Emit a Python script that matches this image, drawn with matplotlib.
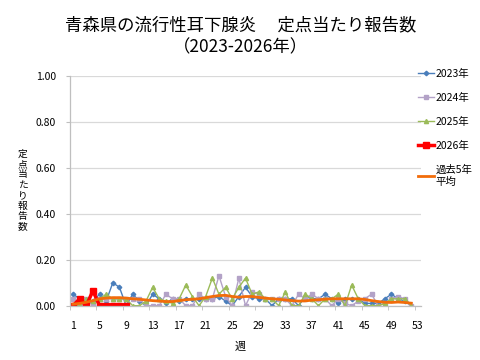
import matplotlib
matplotlib.use("Agg")
import matplotlib.pyplot as plt
from matplotlib.ticker import FixedLocator, NullFormatter, FixedFormatter

plt.rcParams['font.family'] = ['Noto Sans CJK JP', 'DejaVu Sans']

weeks = list(range(1, 53))
weeks_2026 = list(range(1, 10))

y2023 = [0.05, 0.03, 0.00, 0.02, 0.05, 0.02, 0.10, 0.08, 0.00, 0.05,
         0.02, 0.00, 0.05, 0.03, 0.01, 0.03, 0.02, 0.03, 0.03, 0.03,
         0.03, 0.03, 0.04, 0.02, 0.00, 0.04, 0.08, 0.04, 0.03, 0.03,
         0.00, 0.03, 0.03, 0.03, 0.00, 0.04, 0.03, 0.03, 0.05, 0.03,
         0.01, 0.03, 0.03, 0.03, 0.01, 0.01, 0.01, 0.03, 0.05, 0.03,
         0.02, 0.00]
y2024 = [0.03, 0.00, 0.03, 0.00, 0.03, 0.03, 0.03, 0.03, 0.03, 0.03,
         0.03, 0.00, 0.00, 0.00, 0.05, 0.03, 0.03, 0.00, 0.00, 0.05,
         0.03, 0.03, 0.13, 0.04, 0.00, 0.12, 0.00, 0.06, 0.05, 0.03,
         0.03, 0.03, 0.03, 0.00, 0.05, 0.03, 0.05, 0.03, 0.03, 0.00,
         0.03, 0.01, 0.00, 0.02, 0.03, 0.05, 0.00, 0.01, 0.03, 0.04,
         0.03, 0.00]
y2025 = [0.00, 0.00, 0.03, 0.02, 0.03, 0.05, 0.03, 0.03, 0.03, 0.00,
         0.00, 0.02, 0.08, 0.03, 0.02, 0.01, 0.03, 0.09, 0.04, 0.00,
         0.04, 0.12, 0.05, 0.08, 0.03, 0.08, 0.12, 0.05, 0.06, 0.03,
         0.03, 0.00, 0.06, 0.00, 0.00, 0.05, 0.03, 0.00, 0.03, 0.03,
         0.05, 0.00, 0.09, 0.03, 0.00, 0.00, 0.00, 0.01, 0.03, 0.03,
         0.03, 0.00]
y2026 = [0.00, 0.03, 0.00, 0.065, 0.00, 0.00, 0.00, 0.00, 0.00]
avg5 = [0.007, 0.010, 0.015, 0.022, 0.030, 0.033, 0.035, 0.035, 0.033, 0.030,
        0.028, 0.025, 0.022, 0.020, 0.018, 0.018, 0.022, 0.026, 0.028, 0.030,
        0.035, 0.040, 0.044, 0.045, 0.040, 0.037, 0.040, 0.040, 0.036, 0.033,
        0.030, 0.028, 0.025, 0.022, 0.020, 0.021, 0.024, 0.026, 0.028, 0.030,
        0.030, 0.030, 0.030, 0.030, 0.027, 0.022, 0.018, 0.015, 0.014, 0.016,
        0.014, 0.011]

xtick_labels = [str(w) for w in range(1, 54, 4)]
ytick_vals = [0.0, 0.2, 0.4, 0.6, 0.8, 1.0]

fig = plt.figure(figsize=(4.8, 3.6), dpi=100)
ax = fig.add_axes([69.7/480, 1-305.7/360, (421.3-69.7)/480, (305.7-75.7)/360])

ax.plot(weeks, y2023, color='#4A7EBB', lw=1.0, marker='D', ms=2.3, label='2023年')
ax.plot(weeks, y2024, color='#B3A2C7', lw=1.0, marker='s', ms=3.0, label='2024年')
ax.plot(weeks, y2025, color='#9BBB59', lw=1.0, marker='^', ms=3.0, label='2025年')
ax.plot(weeks_2026, y2026, color='#FF0000', lw=2.5, marker='s', ms=4.5, label='2026年')
ax.plot(weeks, avg5, color='#F26C0A', lw=2.0, label='過去5年\n平均')

ax.set_xlim(0.5, 53.5)
ax.set_ylim(0, 1.0)
ax.set_yticks(ytick_vals)
ax.set_yticklabels([f'{v:.2f}' for v in ytick_vals], fontsize=7.5)
ax.yaxis.grid(True, color='#D9D9D9', lw=0.9)
ax.set_axisbelow(True)

ax.xaxis.set_major_locator(FixedLocator(list(range(1, 54, 4))))
ax.xaxis.set_major_formatter(FixedFormatter(xtick_labels))
ax.xaxis.set_minor_locator(FixedLocator([0.5 + 4*k for k in range(14)]))
ax.xaxis.set_minor_formatter(NullFormatter())
ax.tick_params(axis='x', which='major', length=0, labelsize=7.5, pad=11)
ax.tick_params(axis='x', which='minor', length=3, color='#BFBFBF', direction='out')
ax.tick_params(axis='y', length=3, color='#BFBFBF', pad=7)

for s in ['top', 'right']:
    ax.spines[s].set_visible(False)
for s in ['left', 'bottom']:
    ax.spines[s].set_color('#BFBFBF')
    ax.spines[s].set_linewidth(0.9)

fig.text(241/480, 1-25.5/360, '青森県の流行性耳下腺炎\u3000 定点当たり報告数',
         ha='center', va='center', fontsize=12.5)
fig.text(240/480, 1-47.5/360, '（2023-2026年）', ha='center', va='center', fontsize=12.5)

fig.text(22.7/480, 1-190/360, '\n'.join('定点当たり報告数'), ha='center', va='center',
         fontsize=7, linespacing=1.05)
fig.text(240/480, 1-346.5/360, '週', ha='center', va='center', fontsize=8)

leg = ax.legend(loc='upper left', bbox_to_anchor=(418/480, 1-69/360),
                bbox_transform=fig.transFigure, frameon=False, fontsize=7.5,
                handlelength=1.5, handletextpad=0.2, labelspacing=1.33,
                borderpad=0, borderaxespad=0)

fig.savefig('out.png', dpi=100)
